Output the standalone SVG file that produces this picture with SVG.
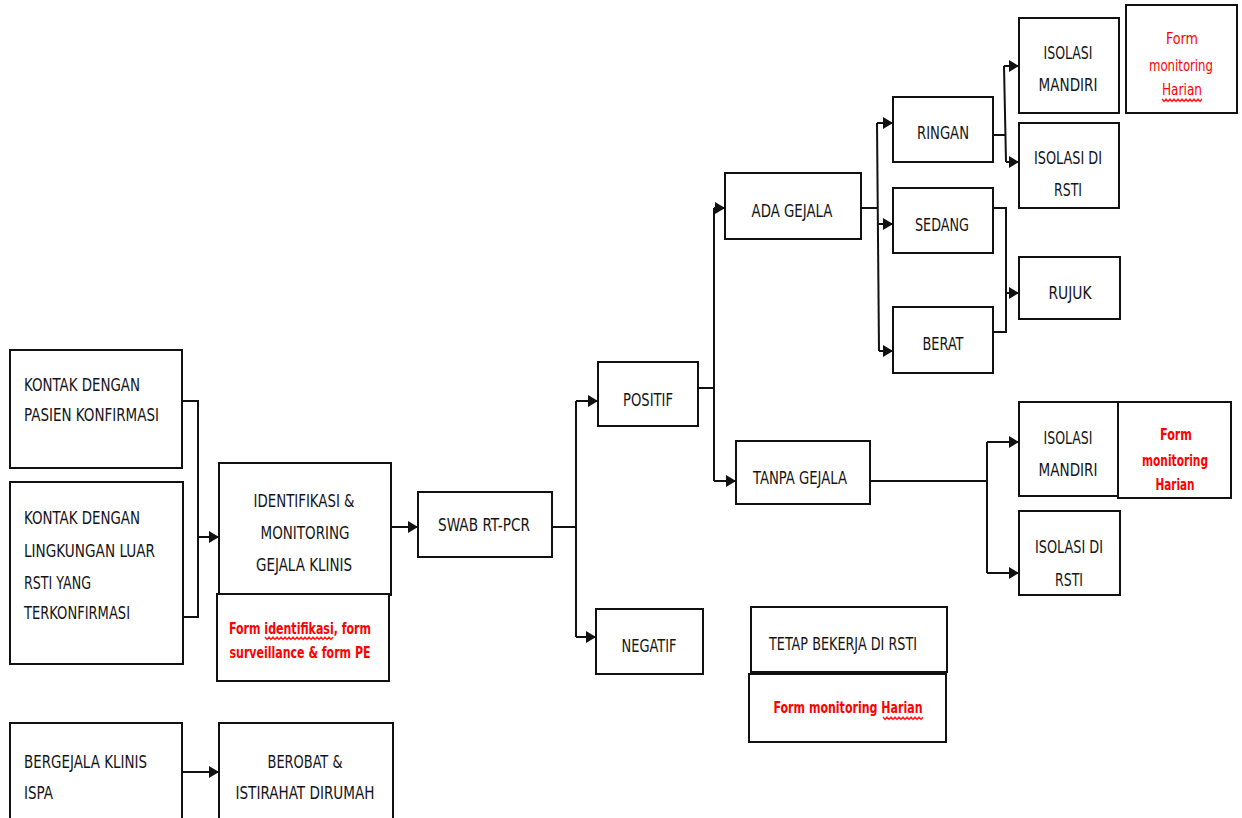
<svg xmlns="http://www.w3.org/2000/svg" width="1242" height="818" viewBox="0 0 1242 818">
<defs>
<marker id="arr" markerUnits="userSpaceOnUse" markerWidth="11" markerHeight="12" refX="10" refY="6" orient="auto">
<path d="M0,0 L10,6 L0,12 z" fill="#111"/>
</marker>
<style>
.box{fill:#fff;stroke:#111;stroke-width:2}
.t{font-family:"DejaVu Sans Condensed","Liberation Sans Narrow","Liberation Sans",sans-serif;font-size:17px;fill:#141418}
.c{text-anchor:middle}
.r{font-family:"DejaVu Sans Condensed","Liberation Sans Narrow","Liberation Sans",sans-serif;font-size:16px;fill:#ff0000;text-anchor:middle}
.b{font-weight:bold}
.ln{fill:none;stroke:#111;stroke-width:2}
.sq{fill:none;stroke:#ff2020;stroke-width:1.4}
</style>
</defs>
<rect width="1242" height="818" fill="#fff"/>

<g id="connectors">
<polyline class="ln" points="182,401 198,401 198,617 183,617"/>
<line class="ln" x1="198" y1="537" x2="219" y2="537" marker-end="url(#arr)"/>
<line class="ln" x1="391" y1="527" x2="418" y2="527" marker-end="url(#arr)"/>
<line class="ln" x1="552" y1="527" x2="576" y2="527"/>
<line class="ln" x1="576" y1="401" x2="576" y2="637"/>
<line class="ln" x1="576" y1="401" x2="598" y2="401" marker-end="url(#arr)"/>
<line class="ln" x1="576" y1="637" x2="596" y2="637" marker-end="url(#arr)"/>
<line class="ln" x1="698" y1="388" x2="714" y2="388"/>
<line class="ln" x1="714" y1="208" x2="714" y2="481"/>
<line class="ln" x1="714" y1="208" x2="725" y2="208" marker-end="url(#arr)"/>
<line class="ln" x1="714" y1="481" x2="736" y2="481" marker-end="url(#arr)"/>
<line class="ln" x1="861" y1="208" x2="877" y2="208"/>
<line class="ln" x1="877" y1="123" x2="879" y2="351"/>
<line class="ln" x1="877" y1="123" x2="893" y2="123" marker-end="url(#arr)"/>
<line class="ln" x1="878" y1="224" x2="893" y2="224" marker-end="url(#arr)"/>
<line class="ln" x1="879" y1="351" x2="893" y2="351" marker-end="url(#arr)"/>
<line class="ln" x1="993" y1="135" x2="1005" y2="135"/>
<line class="ln" x1="1004" y1="66" x2="1006" y2="162"/>
<line class="ln" x1="1004" y1="66" x2="1019" y2="66" marker-end="url(#arr)"/>
<line class="ln" x1="1006" y1="162" x2="1019" y2="162" marker-end="url(#arr)"/>
<polyline class="ln" points="993,208 1006,208 1006,332 993,332"/>
<line class="ln" x1="1006" y1="293" x2="1019" y2="293" marker-end="url(#arr)"/>
<line class="ln" x1="870" y1="481" x2="987" y2="481"/>
<line class="ln" x1="987" y1="442" x2="987" y2="573"/>
<line class="ln" x1="987" y1="442" x2="1019" y2="442" marker-end="url(#arr)"/>
<line class="ln" x1="987" y1="573" x2="1019" y2="573" marker-end="url(#arr)"/>
<line class="ln" x1="182" y1="772" x2="219" y2="772" marker-end="url(#arr)"/>
</g>

<g id="kontak-pasien">
<rect class="box" x="10" y="350" width="172" height="118"/>
<text class="t" x="24" y="391" textLength="116" lengthAdjust="spacingAndGlyphs">KONTAK DENGAN</text>
<text class="t" x="24" y="421" textLength="135" lengthAdjust="spacingAndGlyphs">PASIEN KONFIRMASI</text>
</g>
<g id="kontak-lingkungan">
<rect class="box" x="10" y="482" width="173" height="182"/>
<text class="t" x="24" y="524" textLength="116" lengthAdjust="spacingAndGlyphs">KONTAK DENGAN</text>
<text class="t" x="24" y="557" textLength="131" lengthAdjust="spacingAndGlyphs">LINGKUNGAN LUAR</text>
<text class="t" x="24" y="589" textLength="67" lengthAdjust="spacingAndGlyphs">RSTI YANG</text>
<text class="t" x="24" y="619" textLength="106" lengthAdjust="spacingAndGlyphs">TERKONFIRMASI</text>
</g>
<g id="identifikasi">
<rect class="box" x="219" y="463" width="172" height="132"/>
<text class="t c" x="304" y="507" textLength="101" lengthAdjust="spacingAndGlyphs">IDENTIFIKASI &amp;</text>
<text class="t c" x="305" y="539" textLength="89" lengthAdjust="spacingAndGlyphs">MONITORING</text>
<text class="t c" x="304" y="571" textLength="96" lengthAdjust="spacingAndGlyphs">GEJALA KLINIS</text>
</g>
<g id="form-identifikasi">
<rect class="box" x="217" y="594" width="172" height="87"/>
<text class="r b" x="300" y="634" textLength="142" lengthAdjust="spacingAndGlyphs">Form identifikasi,  form</text>
<text class="r b" x="300" y="658" textLength="141" lengthAdjust="spacingAndGlyphs">surveillance  &amp; form PE</text>
<path class="sq" d="M265,637 l2,2.5 l2,-2.5 l2,2.5 l2,-2.5 l2,2.5 l2,-2.5 l2,2.5 l2,-2.5 l2,2.5 l2,-2.5 l2,2.5 l2,-2.5 l2,2.5 l2,-2.5 l2,2.5 l2,-2.5 l2,2.5 l2,-2.5 l2,2.5 l2,-2.5 l2,2.5 l2,-2.5 l2,2.5 l2,-2.5 l2,2.5 l2,-2.5 l2,2.5 l2,-2.5 l2,2.5 l2,-2.5 l2,2.5 l2,-2.5 l2,2.5 l2,-2.5"/>
</g>
<g id="swab">
<rect class="box" x="418" y="492" width="134" height="65"/>
<text class="t c" x="484" y="531" textLength="92" lengthAdjust="spacingAndGlyphs">SWAB RT-PCR</text>
</g>
<g id="positif">
<rect class="box" x="598" y="362" width="100" height="64"/>
<text class="t c" x="648" y="406" textLength="50" lengthAdjust="spacingAndGlyphs">POSITIF</text>
</g>
<g id="negatif">
<rect class="box" x="596" y="609" width="107" height="65"/>
<text class="t c" x="649" y="652" textLength="55" lengthAdjust="spacingAndGlyphs">NEGATIF</text>
</g>
<g id="ada-gejala">
<rect class="box" x="725" y="173" width="136" height="66"/>
<text class="t c" x="792" y="217" textLength="81" lengthAdjust="spacingAndGlyphs">ADA GEJALA</text>
</g>
<g id="tanpa-gejala">
<rect class="box" x="736" y="441" width="134" height="63"/>
<text class="t c" x="800" y="484" textLength="94" lengthAdjust="spacingAndGlyphs">TANPA GEJALA</text>
</g>
<g id="ringan">
<rect class="box" x="893" y="97" width="100" height="65"/>
<text class="t c" x="943" y="139" textLength="52" lengthAdjust="spacingAndGlyphs">RINGAN</text>
</g>
<g id="sedang">
<rect class="box" x="893" y="188" width="100" height="65"/>
<text class="t c" x="942" y="231" textLength="54" lengthAdjust="spacingAndGlyphs">SEDANG</text>
</g>
<g id="berat">
<rect class="box" x="893" y="307" width="100" height="66"/>
<text class="t c" x="943" y="350" textLength="41" lengthAdjust="spacingAndGlyphs">BERAT</text>
</g>
<g id="isolasi-mandiri-1">
<rect class="box" x="1019" y="18" width="100" height="95"/>
<text class="t c" x="1068" y="59" textLength="49" lengthAdjust="spacingAndGlyphs">ISOLASI</text>
<text class="t c" x="1068" y="91" textLength="59" lengthAdjust="spacingAndGlyphs">MANDIRI</text>
</g>
<g id="form-monitoring-1">
<rect class="box" x="1126" y="5" width="111" height="108"/>
<text class="r" x="1182" y="44" textLength="32" lengthAdjust="spacingAndGlyphs">Form</text>
<text class="r" x="1181" y="71" textLength="64" lengthAdjust="spacingAndGlyphs">monitoring</text>
<text class="r" x="1182" y="95" textLength="40" lengthAdjust="spacingAndGlyphs">Harian</text>
<path class="sq" d="M1162,99 l2,2.5 l2,-2.5 l2,2.5 l2,-2.5 l2,2.5 l2,-2.5 l2,2.5 l2,-2.5 l2,2.5 l2,-2.5 l2,2.5 l2,-2.5 l2,2.5 l2,-2.5 l2,2.5 l2,-2.5 l2,2.5 l2,-2.5 l2,2.5 l2,-2.5"/>
</g>
<g id="isolasi-rsti-1">
<rect class="box" x="1019" y="123" width="100" height="85"/>
<text class="t c" x="1068" y="164" textLength="68" lengthAdjust="spacingAndGlyphs">ISOLASI DI</text>
<text class="t c" x="1068" y="196" textLength="28" lengthAdjust="spacingAndGlyphs">RSTI</text>
</g>
<g id="rujuk">
<rect class="box" x="1019" y="257" width="101" height="62"/>
<text class="t c" x="1070" y="299" textLength="43" lengthAdjust="spacingAndGlyphs">RUJUK</text>
</g>
<g id="isolasi-mandiri-2">
<rect class="box" x="1019" y="402" width="99" height="94"/>
<text class="t c" x="1068" y="444" textLength="49" lengthAdjust="spacingAndGlyphs">ISOLASI</text>
<text class="t c" x="1068" y="476" textLength="59" lengthAdjust="spacingAndGlyphs">MANDIRI</text>
</g>
<g id="form-monitoring-2">
<rect class="box" x="1118" y="402" width="113" height="96"/>
<text class="r b" x="1176" y="440" textLength="32" lengthAdjust="spacingAndGlyphs">Form</text>
<text class="r b" x="1175" y="466" textLength="66" lengthAdjust="spacingAndGlyphs">monitoring</text>
<text class="r b" x="1175" y="490" textLength="39" lengthAdjust="spacingAndGlyphs">Harian</text>
</g>
<g id="isolasi-rsti-2">
<rect class="box" x="1019" y="511" width="101" height="84"/>
<text class="t c" x="1069" y="553" textLength="68" lengthAdjust="spacingAndGlyphs">ISOLASI DI</text>
<text class="t c" x="1069" y="586" textLength="28" lengthAdjust="spacingAndGlyphs">RSTI</text>
</g>
<g id="tetap-bekerja">
<rect class="box" x="751" y="607" width="196" height="65"/>
<text class="t c" x="843" y="650" textLength="148" lengthAdjust="spacingAndGlyphs">TETAP  BEKERJA  DI RSTI</text>
</g>
<g id="form-monitoring-3">
<rect class="box" x="749" y="674" width="197" height="68"/>
<text class="r b" x="848" y="713" textLength="149" lengthAdjust="spacingAndGlyphs">Form monitoring  Harian</text>
<path class="sq" d="M883,717 l2,2.5 l2,-2.5 l2,2.5 l2,-2.5 l2,2.5 l2,-2.5 l2,2.5 l2,-2.5 l2,2.5 l2,-2.5 l2,2.5 l2,-2.5 l2,2.5 l2,-2.5 l2,2.5 l2,-2.5 l2,2.5 l2,-2.5 l2,2.5 l2,-2.5"/>
</g>
<g id="bergejala">
<rect class="box" x="10" y="723" width="172" height="100"/>
<text class="t" x="24" y="768" textLength="123" lengthAdjust="spacingAndGlyphs">BERGEJALA KLINIS</text>
<text class="t" x="24" y="799" textLength="29" lengthAdjust="spacingAndGlyphs">ISPA</text>
</g>
<g id="berobat">
<rect class="box" x="219" y="723" width="174" height="100"/>
<text class="t c" x="305" y="768" textLength="75" lengthAdjust="spacingAndGlyphs">BEROBAT &amp;</text>
<text class="t c" x="305" y="799" textLength="139" lengthAdjust="spacingAndGlyphs">ISTIRAHAT DIRUMAH</text>
</g>
</svg>
